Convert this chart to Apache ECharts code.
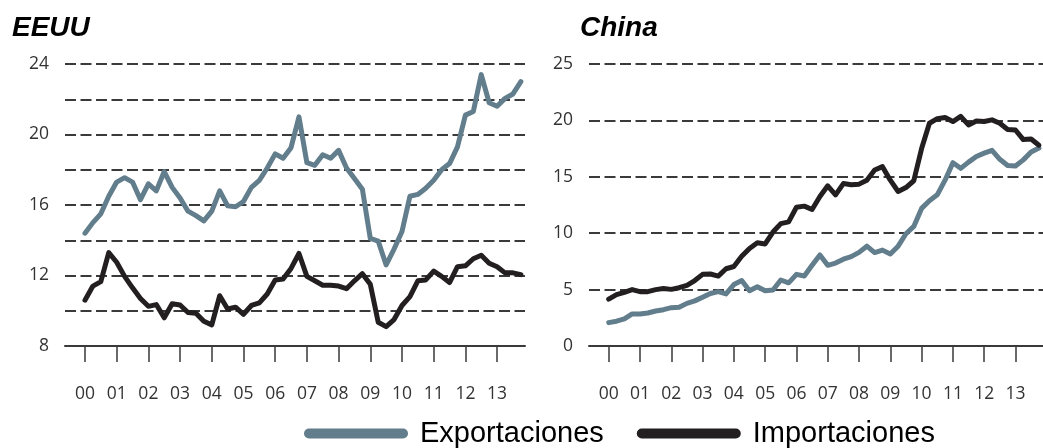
<!DOCTYPE html>
<html>
<head>
<meta charset="utf-8">
<title>EEUU y China: exportaciones e importaciones</title>
<script src="https://cdn.jsdelivr.net/npm/echarts@6/dist/echarts.min.js"></script>
<style>
  html, body { margin: 0; padding: 0; background: #fff; }
  #chart { width: 1043px; height: 448px; }
</style>
</head>
<body>
<div id="chart"></div>
<script>
// años en el eje x (datos trimestrales 2000T1 - 2013T4)
const yearLabels = ['00', '01', '02', '03', '04', '05', '06', '07', '08', '09', '10', '11', '12', '13']

// EEUU
const usExports = [
  14.4, 15.0, 15.5, 16.5, 17.3, 17.55, 17.3, 16.3, 17.2, 16.8, 17.9, 17.0, 16.4, 15.65,
  15.4, 15.1, 15.65, 16.8, 15.95, 15.9, 16.2, 17.0, 17.4, 18.1, 18.9, 18.65, 19.25, 21.0,
  18.4, 18.25, 18.85, 18.65, 19.1, 18.1, 17.5, 16.9, 14.1, 13.95, 12.6, 13.5, 14.5, 16.5,
  16.6, 16.95, 17.4, 18.0, 18.35, 19.3, 21.1, 21.3, 23.4, 21.8, 21.6, 22.05, 22.3, 23.0
]
const usImports = [
  10.6, 11.4, 11.65, 13.3, 12.75, 11.95, 11.3, 10.7, 10.25, 10.35, 9.6, 10.4, 10.33, 9.9,
  9.86, 9.4, 9.2, 10.85, 10.1, 10.2, 9.8, 10.3, 10.45, 10.95, 11.75, 11.8, 12.4, 13.25,
  11.95, 11.7, 11.45, 11.45, 11.4, 11.25, 11.7, 12.1, 11.5, 9.35, 9.1, 9.5, 10.3, 10.8,
  11.7, 11.75, 12.25, 11.95, 11.6, 12.5, 12.55, 12.95, 13.15, 12.7, 12.5, 12.15, 12.15, 12.05
]

// China
const cnExports = [
  2.07, 2.2, 2.4, 2.84, 2.84, 2.93, 3.1, 3.22, 3.4, 3.43, 3.78, 4.0, 4.33, 4.65,
  4.82, 4.62, 5.45, 5.8, 4.9, 5.25, 4.9, 4.97, 5.85, 5.6, 6.35, 6.2, 7.15, 8.07,
  7.15, 7.35, 7.7, 7.92, 8.3, 8.85, 8.28, 8.5, 8.15, 8.85, 9.95, 10.6, 12.2, 12.88,
  13.4, 14.7, 16.25, 15.75, 16.3, 16.8, 17.1, 17.35, 16.55, 16.0, 15.96, 16.5, 17.2, 17.55
]
const cnImports = [
  4.15, 4.55, 4.75, 5.0, 4.82, 4.82, 5.0, 5.1, 5.02, 5.17, 5.38, 5.8, 6.35, 6.38,
  6.2, 6.85, 7.05, 7.95, 8.65, 9.15, 9.05, 10.1, 10.85, 11.0, 12.3, 12.4, 12.1, 13.25,
  14.2, 13.4, 14.4, 14.3, 14.35, 14.7, 15.6, 15.9, 14.7, 13.7, 14.05, 14.65, 17.5, 19.75,
  20.15, 20.25, 19.9, 20.35, 19.6, 19.95, 19.9, 20.05, 19.75, 19.2, 19.15, 18.3, 18.35, 17.8
]

const usTicks = [8, 12, 16, 20, 24]
const cnTicks = [0, 5, 10, 15, 20, 25]

const exportColor = '#627d8c'
const importColor = '#231f20'
const axisColor = '#3a3a3a'
const labelFont = 'Open Sans'

// cada trimestre es 1/4 de año en el eje x
const toPoints = (arr) => arr.map((v, i) => [i / 4, v])
const yearTicks = yearLabels.map((_, i) => i)

const makeXAxis = (gridIndex) => ({
  type: 'value',
  gridIndex,
  min: -0.63,
  max: 13.88,
  splitLine: { show: false },
  axisLine: { show: true, lineStyle: { color: axisColor, width: 2 } },
  axisTick: {
    show: true,
    customValues: yearTicks,
    length: 16,
    lineStyle: { color: axisColor, width: 1.5 }
  },
  axisLabel: {
    customValues: yearTicks,
    formatter: (v) => yearLabels[v],
    margin: 39,
    color: '#333',
    fontFamily: labelFont,
    fontSize: 17.5
  }
})

const makeYAxis = (gridIndex, min, max, interval, labelValues) => ({
  type: 'value',
  gridIndex,
  min,
  max,
  interval,
  axisLine: { show: false },
  axisTick: { show: false },
  axisLabel: {
    customValues: labelValues,
    margin: 16,
    color: '#333',
    fontFamily: labelFont,
    fontSize: 17.5
  },
  splitLine: {
    show: true,
    lineStyle: { color: axisColor, width: 2, type: [11, 4.5] }
  }
})

const makeLine = (name, data, color, idx) => ({
  name,
  type: 'line',
  xAxisIndex: idx,
  yAxisIndex: idx,
  data: toPoints(data),
  showSymbol: false,
  symbol: 'none',
  lineStyle: { color, width: 5, cap: 'round', join: 'round' },
  itemStyle: { color },
  emphasis: { disabled: true },
  z: 3
})

const chart = echarts.init(document.getElementById('chart'))

chart.setOption({
  animation: false,
  backgroundColor: '#fff',
  title: [
    {
      text: 'EEUU',
      left: 7,
      top: 9,
      textStyle: { fontFamily: 'Liberation Sans', fontSize: 28, fontStyle: 'italic', fontWeight: 'bold', color: '#000' }
    },
    {
      text: 'China',
      left: 575,
      top: 9,
      textStyle: { fontFamily: 'Liberation Sans', fontSize: 28, fontStyle: 'italic', fontWeight: 'bold', color: '#000' }
    }
  ],
  legend: {
    left: 299,
    top: 414,
    itemWidth: 104,
    itemHeight: 10,
    itemGap: 33,
    icon: 'path://M5,0 H99 A5,5 0 0 1 99,10 H5 A5,5 0 0 1 5,0 Z',
    selectedMode: false,
    data: ['Exportaciones', 'Importaciones'],
    textStyle: {
      fontFamily: 'Liberation Sans',
      fontSize: 29,
      color: '#000',
      padding: [0, 0, 0, 7]
    }
  },
  grid: [
    { left: 65, right: 518, top: 64, bottom: 102 },
    { left: 589, right: -6, top: 64, bottom: 102 }
  ],
  xAxis: [makeXAxis(0), makeXAxis(1)],
  yAxis: [
    makeYAxis(0, 8, 24, 2, usTicks),
    makeYAxis(1, 0, 25, 5, cnTicks)
  ],
  series: [
    makeLine('Exportaciones', usExports, exportColor, 0),
    makeLine('Importaciones', usImports, importColor, 0),
    makeLine('Exportaciones', cnExports, exportColor, 1),
    makeLine('Importaciones', cnImports, importColor, 1)
  ]
})
</script>
</body>
</html>
